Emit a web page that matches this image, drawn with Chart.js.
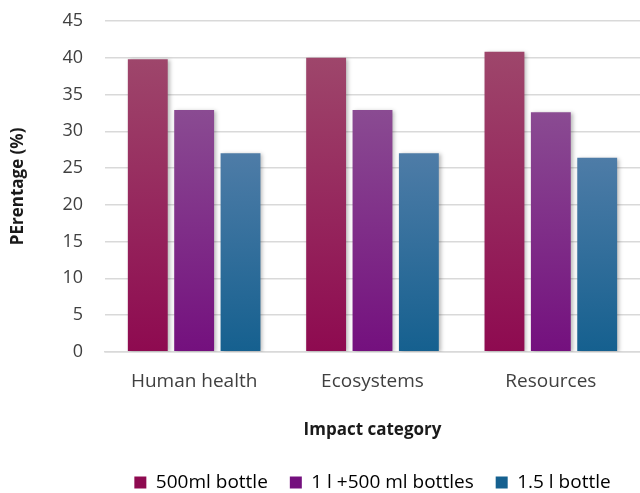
<!DOCTYPE html>
<html>
<head>
<meta charset="utf-8">
<script src="https://cdn.jsdelivr.net/npm/chart.js@4.4.1/dist/chart.umd.min.js"></script>
<style>
  html, body { margin: 0; padding: 0; background: #fff; }
  #wrap { width: 640px; height: 493px; }
</style>
</head>
<body>
<div id="wrap"><canvas id="impactChart"></canvas></div>
<script>
// values
var categories = ['Human health', 'Ecosystems', 'Resources'];
var bottle500 = [39.8, 40.0, 40.8];
var bottles1l500 = [32.9, 32.9, 32.6];
var bottle15 = [27.0, 27.0, 26.4];
var yTicks = [0, 5, 10, 15, 20, 25, 30, 35, 40, 45];

// top colour / bottom colour of each bar gradient
var shades = {
    red: ['#9e466b', '#8e0a50'],
    purple: ['#8a4b92', '#74107e'],
    blue: ['#4e7ca7', '#15608f']
};

function barFill(pair) {
    return function(ctx) {
        var chart = ctx.chart;
        if (ctx.type !== 'data' || !chart.chartArea || !chart.scales.y) return pair[1];
        var y = chart.scales.y;
        var top = y.getPixelForValue(ctx.raw);
        var base = y.getPixelForValue(0);
        var g = chart.ctx.createLinearGradient(0, top, 0, base);
        g.addColorStop(0, pair[0]);
        g.addColorStop(1, pair[1]);
        return g;
    };
}

var legendFill = [shades.red[1], shades.purple[1], shades.blue[1]];

// soft shadow behind the bars
var barShadow = {
    id: 'barShadow',
    beforeDatasetsDraw: function(chart) {
        var c = chart.ctx;
        c.save();
        c.shadowColor = 'rgba(0,0,0,0.28)';
        c.shadowBlur = 4;
        c.shadowOffsetX = 2;
        c.shadowOffsetY = 1;
    },
    afterDatasetsDraw: function(chart) {
        chart.ctx.restore();
    }
};

new Chart(document.getElementById('impactChart'), {
    type: 'bar',
    data: {
        labels: categories,
        datasets: [
            { label: '500ml bottle', data: bottle500, backgroundColor: barFill(shades.red) },
            { label: '1 l +500 ml bottles', data: bottles1l500, backgroundColor: barFill(shades.purple) },
            { label: '1.5 l bottle', data: bottle15, backgroundColor: barFill(shades.blue) }
        ]
    },
    options: {
        responsive: true,
        maintainAspectRatio: false,
        animation: false,
        layout: { padding: { top: 21, right: 0, bottom: -9, left: 0 } },
        datasets: {
            bar: { categoryPercentage: 0.78, barPercentage: 0.86 }
        },
        scales: {
            x: {
                grid: { display: false },
                border: { display: true, color: '#d9d9d9', width: 1.5 },
                ticks: {
                    color: '#404040',
                    padding: 10,
                    font: { family: 'Open Sans', size: 19 }
                },
                title: {
                    display: true,
                    text: 'Impact category',
                    color: '#1a1a1a',
                    padding: { top: 17, bottom: 11 },
                    font: { family: 'Open Sans', size: 17, weight: 'bold' }
                }
            },
            y: {
                min: 0,
                max: 45,
                afterBuildTicks: function(axis) {
                    axis.ticks = yTicks.map(function(v) { return { value: v }; });
                },
                // invisible tick marks keep the gap between labels and grid
                grid: { color: '#d9d9d9', lineWidth: 1.5, drawTicks: true, tickLength: 18, tickColor: 'rgba(0,0,0,0)' },
                border: { display: false },
                ticks: {
                    color: '#404040',
                    padding: 4,
                    font: { family: 'Open Sans', size: 18 }
                },
                title: {
                    display: true,
                    text: 'PErentage (%)',
                    color: '#1a1a1a',
                    padding: { top: 8, bottom: 30 },
                    font: { family: 'Open Sans', size: 17, weight: 'bold' }
                }
            }
        },
        plugins: {
            legend: {
                position: 'bottom',
                fullSize: false,
                labels: {
                    color: '#404040',
                    boxWidth: 12,
                    boxHeight: 12,
                    padding: 22,
                    font: { family: 'Open Sans', size: 19 },
                    generateLabels: function(chart) {
                        return chart.data.datasets.map(function(ds, i) {
                            return {
                                text: ds.label,
                                fillStyle: legendFill[i],
                                strokeStyle: legendFill[i],
                                lineWidth: 0,
                                hidden: false,
                                datasetIndex: i
                            };
                        });
                    }
                }
            },
            tooltip: { enabled: false }
        }
    },
    plugins: [barShadow]
});
</script>
</body>
</html>
